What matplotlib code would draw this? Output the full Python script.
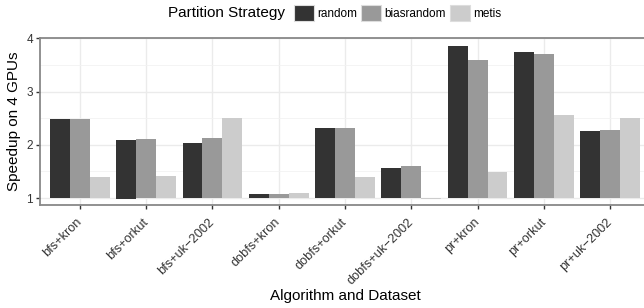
import numpy as np
import matplotlib
matplotlib.use("Agg")
import matplotlib.pyplot as plt
from matplotlib.patches import Patch

plt.rcParams['font.family'] = ['Liberation Sans', 'DejaVu Sans']

# data
categories = ["bfs+kron", "bfs+orkut", "bfs+uk\u22122002", "dobfs+kron", "dobfs+orkut",
              "dobfs+uk\u22122002", "pr+kron", "pr+orkut", "pr+uk\u22122002"]
strategies = ["random", "biasrandom", "metis"]
random_vals = [2.48, 2.09, 2.03, 1.075, 2.31, 1.57, 3.86, 3.74, 2.26]
random_base = [1.0, 0.98, 1.0, 1.0, 1.0, 1.0, 1.0, 1.0, 1.0]
biasrandom_vals = [2.48, 2.11, 2.13, 1.075, 2.31, 1.61, 3.59, 3.70, 2.28]
metis_vals = [1.40, 1.42, 2.51, 1.10, 1.39, 0.99, 1.49, 2.56, 2.50]
colors = ["#333333", "#999999", "#cccccc"]

fig = plt.figure(figsize=(6.44, 3.08), dpi=100)
W, H = 644, 308
# panel runs past the right edge, as in the reference
ax = fig.add_axes([40 / W, (H - 205) / H, 610 / W, (205 - 38.3) / H])

x = np.arange(len(categories))
w = 0.3
ax.bar(x - w, np.array(random_vals) - np.array(random_base), bottom=random_base,
       width=w, color=colors[0], zorder=3)
ax.bar(x, np.array(biasrandom_vals) - 1, bottom=1, width=w, color=colors[1], zorder=3)
ax.bar(x + w, np.array(metis_vals) - 1, bottom=1, width=w, color=colors[2], zorder=3)

ax.set_xlim(-0.6, len(categories) - 0.4)
ax.set_ylim(0.87, 4.0)
ax.set_yticks([1, 2, 3, 4])
ax.set_yticks([1.5, 2.5, 3.5], minor=True)
ax.set_xticks(x)
ax.set_xticklabels(categories, rotation=45, ha='right', va='center',
                   rotation_mode='anchor', fontsize=9.2, color='#333333')
ax.tick_params(axis='y', labelsize=8.5, labelcolor='#333333', pad=2)
ax.tick_params(axis='x', pad=8)
ax.tick_params(which='major', length=3, width=1, color='#333333')
ax.tick_params(which='minor', length=0)

ax.grid(True, which='major', color='#ebebeb', linewidth=1.0, zorder=0)
ax.grid(True, which='minor', axis='y', color='#f2f2f2', linewidth=0.6, zorder=0)
for s in ax.spines.values():
    s.set_color('#888888')
    s.set_linewidth(1.3)

ax.set_ylabel("Speedup on 4 GPUs", fontsize=11, labelpad=4)
fig.text(345 / W, 1 - 296 / H, "Algorithm and Dataset", fontsize=11,
         ha='center', va='center')

# legend with title on the left
fig.text(168 / W, 1 - 13 / H, "Partition Strategy", fontsize=11, ha='left', va='center')
handles = [Patch(facecolor=c, edgecolor='#dddddd', linewidth=0.8) for c in colors]
fig.legend(handles, strategies, ncol=3, loc='center left',
           bbox_to_anchor=(294 / W, 1 - 13 / H), frameon=False, fontsize=8.5,
           handlelength=1.7, handleheight=1.7, handletextpad=0.3,
           columnspacing=0.3, borderpad=0, borderaxespad=0)

fig.savefig("out.png", dpi=100)
